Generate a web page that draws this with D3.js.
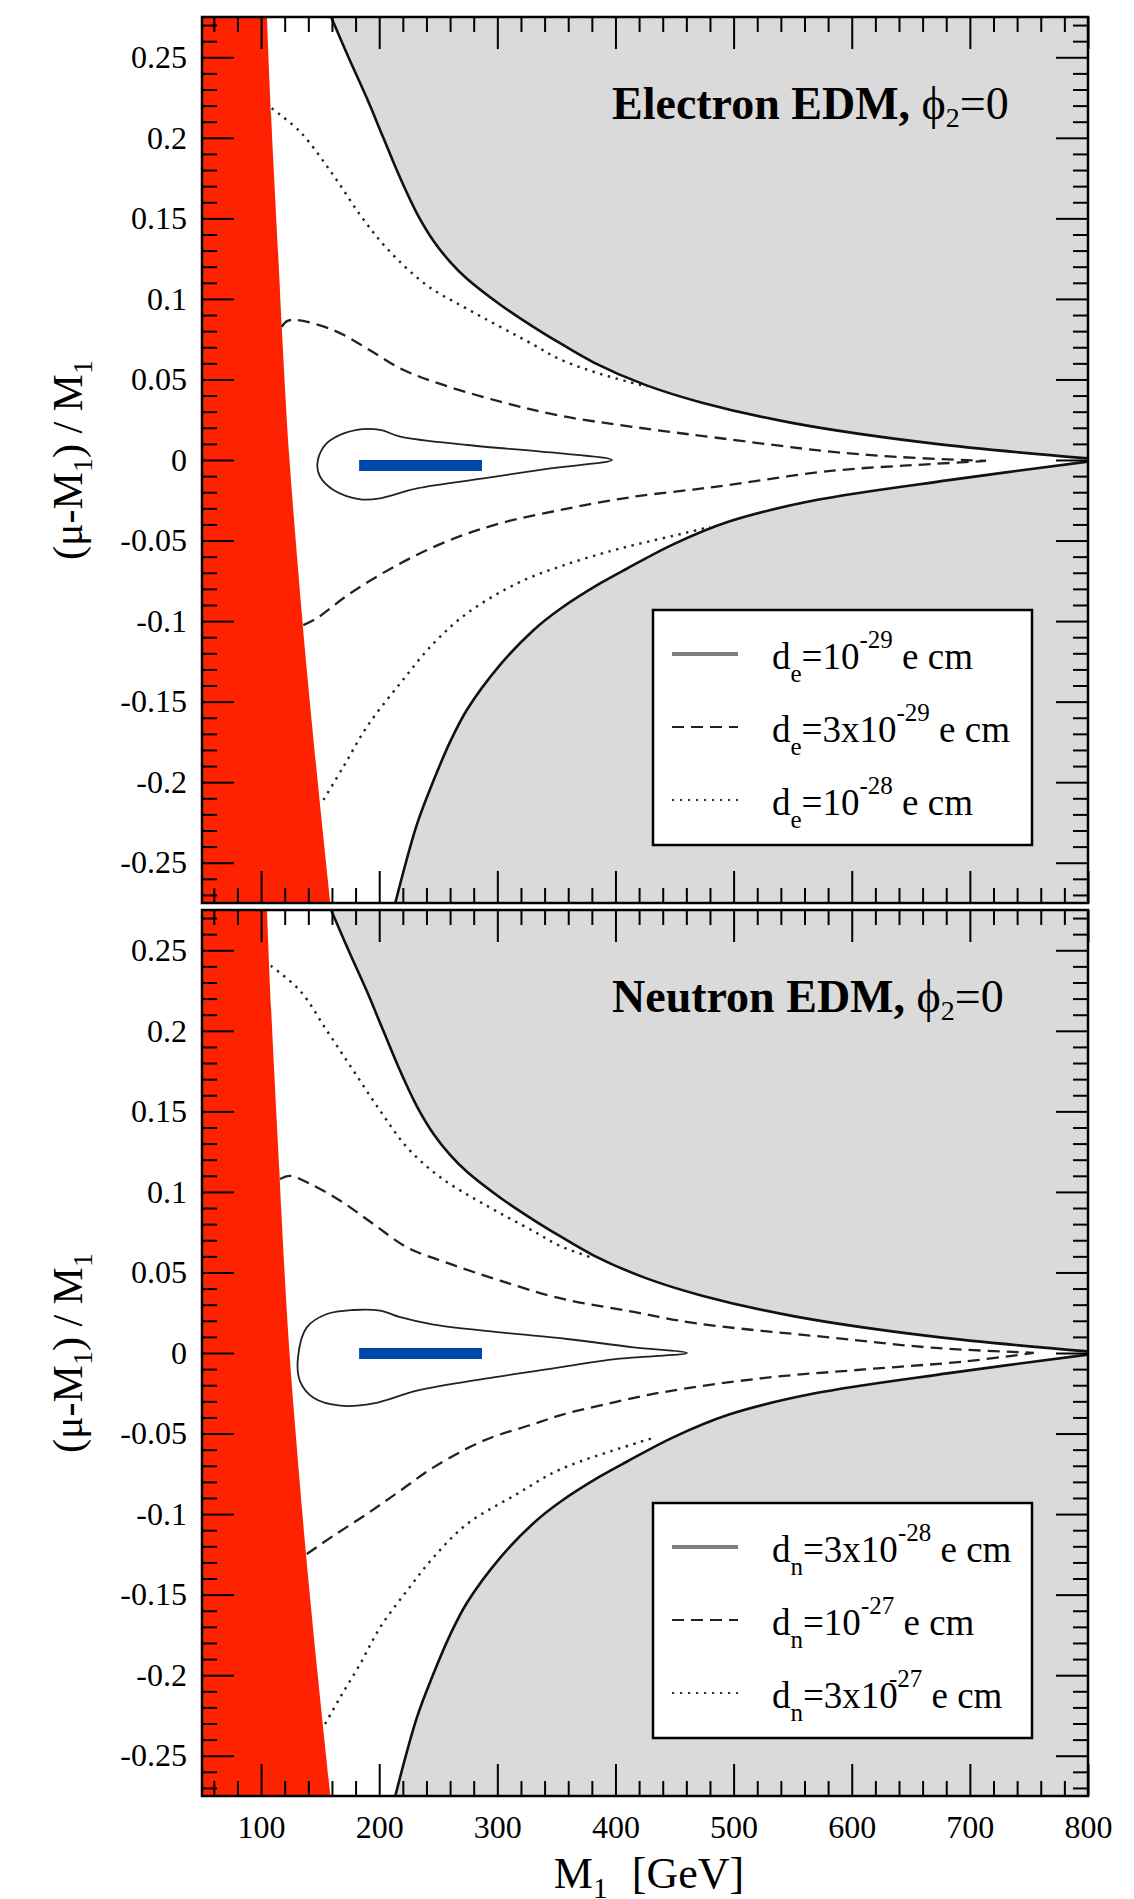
<!DOCTYPE html>
<html>
<head>
<meta charset="utf-8">
<script src="https://cdn.jsdelivr.net/npm/d3@7"></script>
<style>
body { margin: 0; background: #fff; }
text { font-family: "Liberation Serif", "Times New Roman", Times, serif; fill: #000; white-space: pre; }
</style>
</head>
<body>
<div id="chart"></div>
<script>
var width = 1134;
var height = 1899;

// tick labels
var xMajor = [100, 200, 300, 400, 500, 600, 700, 800];
var yMajor = [-0.25, -0.2, -0.15, -0.1, -0.05, 0, 0.05, 0.1, 0.15, 0.2, 0.25];

// excluded region (red): right edge, [M1, (mu-M1)/M1]
var redEdge = [[105, 0.275], [108.5, 0.214], [115.5, 0.113], [117, 0.09], [123.8, 0.003],
               [134.7, -0.097], [137.3, -0.119], [148, -0.2], [158.7, -0.275]];

// grey regions, same in both panels
var upperEdge = [[159.3, 0.275], [174, 0.25], [189.6, 0.2245], [203.5, 0.2], [217.8, 0.175], [232, 0.153],
                 [246, 0.136], [260, 0.123], [274.3, 0.1125], [302.5, 0.0964], [330.8, 0.0825],
                 [353.1, 0.0725], [381.7, 0.0605], [424.6, 0.0468], [473.3, 0.0356], [550.5, 0.0229],
                 [667.9, 0.0103], [800, 0.001]];
var lowerEdge = [[213.6, -0.275], [232, -0.226], [246, -0.199], [260, -0.175], [274.3, -0.155],
                 [302.5, -0.127], [330.8, -0.1055], [353.1, -0.0925], [387.3, -0.0765], [410.3, -0.0672],
                 [447.5, -0.0528], [496.1, -0.0382], [567.7, -0.0252], [682.2, -0.0125], [800, -0.001]];

// electron EDM contours
var eDashUp = [[117.5, 0.0827], [122, 0.0862], [130, 0.0869], [161, 0.0807], [189.6, 0.0693], [217.8, 0.0569],
               [246, 0.0486], [302.5, 0.0362], [353, 0.0275], [415.5, 0.0205], [489, 0.0135], [582, 0.0052],
               [639, 0.0019], [713.7, -0.0006]];
var eDashLow = [[135.8, -0.1025], [147, -0.0983], [175.4, -0.0828], [217.8, -0.0642], [260, -0.0497],
                [302.5, -0.0393], [359, -0.0302], [415.5, -0.0228], [467.5, -0.0182], [489, -0.0162],
                [582, -0.0068], [668, -0.0025], [713.7, -0.0006]];
var eDotUp = [[109, 0.2183], [133, 0.2038], [161, 0.177], [184, 0.152], [206.5, 0.1314], [240, 0.1086],
              [274, 0.094], [330.8, 0.0715], [353, 0.0625], [387, 0.0535], [427, 0.0455]];
var eDotLow = [[152.8, -0.211], [169.7, -0.1904], [189.6, -0.1656], [217.8, -0.1386], [246, -0.1138],
               [274.3, -0.0952], [316.7, -0.0766], [356, -0.0654], [396, -0.0565], [415.5, -0.0528],
               [461.8, -0.0448], [480, -0.0415]];
var eLoop = [[397, 0], [345, 0.0047], [274.3, 0.0093], [217.8, 0.0145], [200.8, 0.0187], [181, 0.0187],
             [161.3, 0.0135], [152.7, 0.0079], [147.6, -0.003], [150, -0.0104], [161.3, -0.0186],
             [184, -0.0244], [200.8, -0.0238], [232, -0.0176], [288.4, -0.0114], [345, -0.0052]];

// neutron EDM contours
var nDashUp = [[116, 0.108], [124.6, 0.11], [141.5, 0.105], [167, 0.0945], [195.2, 0.08], [223.5, 0.0656],
               [260.2, 0.0553], [302.5, 0.0449], [353, 0.034], [415.5, 0.0255], [467.5, 0.0185],
               [582, 0.0096], [668, 0.0033], [754, 0.0001]];
var nDashLow = [[138.7, -0.1248], [161.3, -0.1134], [189.6, -0.0999], [217.8, -0.0855], [246, -0.071],
                [288.4, -0.0544], [330.8, -0.0441], [353, -0.0387], [387.3, -0.0325], [438.9, -0.0245],
                [524.7, -0.0156], [610.6, -0.0102], [696.4, -0.0052], [754, 0.0001]];
var nDotUp = [[108.2, 0.2404], [133, 0.2249], [155.7, 0.2001], [178.2, 0.1752], [200.8, 0.1504],
              [223.5, 0.1277], [251.7, 0.1091], [288.4, 0.0925], [330.8, 0.0755], [353, 0.0665], [380, 0.0592]];
var nDotLow = [[154.2, -0.2303], [167, -0.2137], [183.9, -0.193], [200.8, -0.1703], [223.5, -0.1476],
               [246, -0.1268], [274.3, -0.1062], [316.7, -0.0875], [353, -0.0723], [421, -0.0552], [430, -0.0532]];
var nLoop = [[460.5, 0], [415.5, 0.0035], [359, 0.0087], [302.5, 0.0128], [246, 0.0176], [217.8, 0.0222],
             [200.8, 0.0263], [178.2, 0.0267], [155.7, 0.0242], [138.7, 0.0159], [131.2, -0.003],
             [133, -0.0176], [144.4, -0.0278], [167, -0.0327], [195.2, -0.0313], [232, -0.0234],
             [288.4, -0.0161], [344.9, -0.0099], [401.4, -0.0037]];

// blue segment: [M1 start, M1 end], centre value per panel
var barRange = [183, 287];
var barCentre = [-0.0034, -0.0003];

var titles = ["Electron EDM,", "Neutron EDM,"];
var legendRows = [
  [["d", "e", "=10", "-29", " e cm"], ["d", "e", "=3x10", "-29", " e cm"], ["d", "e", "=10", "-28", " e cm"]],
  [["d", "n", "=3x10", "-28", " e cm"], ["d", "n", "=10", "-27", " e cm"], ["d", "n", "=3x10", "-27", " e cm"]]
];

var panels = [
  {top: 17, dashUp: eDashUp, dashLow: eDashLow, dotUp: eDotUp, dotLow: eDotLow, loop: eLoop},
  {top: 910, dashUp: nDashUp, dashLow: nDashLow, dotUp: nDotUp, dotLow: nDotLow, loop: nLoop}
];
var panelH = 886;
var left = 202, right = 1088;

var x = d3.scaleLinear().domain([50, 800]).range([left, right]);

var svg = d3.select("#chart").append("svg")
    .attr("width", width)
    .attr("height", height);
svg.append("rect").attr("width", width).attr("height", height).attr("fill", "#fff");

var xMinor = d3.range(60, 800, 20).filter(function(v) { return v % 100 !== 0; });
var yMinor = d3.range(-27, 28).filter(function(v) { return v % 5 !== 0; }).map(function(v) { return v / 100; });

panels.forEach(function(p, i) {
    var y = d3.scaleLinear().domain([-0.275, 0.275]).range([p.top + panelH, p.top]);
    var clipId = "clip" + i;
    svg.append("clipPath").attr("id", clipId)
        .append("rect").attr("x", left).attr("y", p.top).attr("width", right - left).attr("height", panelH);

    var plot = svg.append("g").attr("clip-path", "url(#" + clipId + ")");
    var smooth = d3.curveCatmullRom.alpha(0.5);

    // grey regions
    plot.append("path").datum(upperEdge)
        .attr("d", d3.area().x(function(d) { return x(d[0]); }).y0(y(0.275)).y1(function(d) { return y(d[1]); })
            .curve(smooth))
        .attr("fill", "#dadada");
    plot.append("path").datum(lowerEdge)
        .attr("d", d3.area().x(function(d) { return x(d[0]); }).y0(y(-0.275)).y1(function(d) { return y(d[1]); })
            .curve(smooth))
        .attr("fill", "#dadada");

    // red excluded strip
    plot.append("path").datum(redEdge)
        .attr("d", d3.area().y(function(d) { return y(d[1]); }).x0(x(50)).x1(function(d) { return x(d[0]); })
            .curve(smooth))
        .attr("fill", "#ff2200");

    var line = d3.line().x(function(d) { return x(d[0]); }).y(function(d) { return y(d[1]); })
        .curve(smooth);

    [upperEdge, lowerEdge].forEach(function(c) {
        plot.append("path").datum(c).attr("d", line)
            .attr("fill", "none").attr("stroke", "#111").attr("stroke-width", 2.6);
    });
    [p.dashUp, p.dashLow].forEach(function(c) {
        plot.append("path").datum(c).attr("d", line)
            .attr("fill", "none").attr("stroke", "#222").attr("stroke-width", 2.3)
            .attr("stroke-dasharray", "12,7");
    });
    [p.dotUp, p.dotLow].forEach(function(c) {
        plot.append("path").datum(c).attr("d", line)
            .attr("fill", "none").attr("stroke", "#222").attr("stroke-width", 2.4)
            .attr("stroke-dasharray", "2.4,5.6");
    });
    plot.append("path").datum(p.loop)
        .attr("d", d3.line().x(function(d) { return x(d[0]); }).y(function(d) { return y(d[1]); })
            .curve(d3.curveCatmullRomClosed.alpha(0.5)))
        .attr("fill", "none").attr("stroke", "#222").attr("stroke-width", 1.8);

    // blue segment
    plot.append("line")
        .attr("x1", x(barRange[0])).attr("x2", x(barRange[1]))
        .attr("y1", y(barCentre[i])).attr("y2", y(barCentre[i]))
        .attr("stroke", "#0047ab").attr("stroke-width", 11);

    // ticks on all four sides, pointing inward
    function tickAxis(axis, tr, values, size, labels) {
        var g = svg.append("g").attr("transform", tr)
            .call(axis.tickValues(values).tickSize(-size).tickPadding(15)
                .tickFormat(function(v) { return String(v); }));
        g.select(".domain").remove();
        g.selectAll(".tick line").attr("stroke", "#000").attr("stroke-width", 2);
        if (labels) {
            g.selectAll("text").attr("font-size", 32).attr("font-family", null);
        } else {
            g.selectAll("text").remove();
        }
        return g;
    }
    tickAxis(d3.axisBottom(x), "translate(0," + (p.top + panelH) + ")", xMajor, 32, false);
    tickAxis(d3.axisBottom(x), "translate(0," + (p.top + panelH) + ")", xMinor, 15, false);
    tickAxis(d3.axisTop(x), "translate(0," + p.top + ")", xMajor, 32, false);
    tickAxis(d3.axisTop(x), "translate(0," + p.top + ")", xMinor, 15, false);
    tickAxis(d3.axisLeft(y), "translate(" + left + ",0)", yMajor, 32, true);
    tickAxis(d3.axisLeft(y), "translate(" + left + ",0)", yMinor, 15, false);
    tickAxis(d3.axisRight(y), "translate(" + right + ",0)", yMajor, 32, false);
    tickAxis(d3.axisRight(y), "translate(" + right + ",0)", yMinor, 15, false);

    if (i === 1) {
        var xl = tickAxis(d3.axisBottom(x), "translate(0," + (p.top + panelH) + ")", xMajor, 0, true);
        xl.selectAll(".tick line").remove();
        xl.selectAll("text").attr("y", 19);
    }

    // frame
    svg.append("rect")
        .attr("x", left).attr("y", p.top).attr("width", right - left).attr("height", panelH)
        .attr("fill", "none").attr("stroke", "#000").attr("stroke-width", 2.5);

    // title
    var t = svg.append("text").attr("x", 612).attr("y", p.top + 102).attr("font-size", 46);
    t.append("tspan").attr("font-weight", "bold").text(titles[i]);
    t.append("tspan").text(" \u03d5");
    t.append("tspan").attr("font-size", 28).attr("dy", 8).text("2");
    t.append("tspan").attr("dy", -8).text("=0");

    // legend
    var lg = svg.append("g").attr("transform", "translate(653," + (p.top + 593) + ")");
    lg.append("rect").attr("width", 379).attr("height", 235)
        .attr("fill", "#fff").attr("stroke", "#000").attr("stroke-width", 2.5);
    var rowY = [44, 117, 190];
    var styles = [
        {stroke: "#808080", w: 4, dash: null},
        {stroke: "#222", w: 2.2, dash: "12,7"},
        {stroke: "#333", w: 2.2, dash: "2.2,5.8"}
    ];
    legendRows[i].forEach(function(r, k) {
        lg.append("line").attr("x1", 19).attr("x2", 85).attr("y1", rowY[k]).attr("y2", rowY[k])
            .attr("stroke", styles[k].stroke).attr("stroke-width", styles[k].w)
            .attr("stroke-dasharray", styles[k].dash);
        var tx = lg.append("text").attr("x", 119).attr("y", rowY[k] + 15).attr("font-size", 37);
        tx.append("tspan").text(r[0]);
        tx.append("tspan").attr("font-size", 25).attr("dy", 13).text(r[1]);
        tx.append("tspan").attr("dy", -13).text(r[2]);
        tx.append("tspan").attr("font-size", 25).attr("dy", -21)
            .attr("dx", (i === 1 && k === 2) ? -9 : 0).text(r[3]);
        tx.append("tspan").attr("dy", 21).text(r[4]);
    });

    // y axis title
    var yl = svg.append("text")
        .attr("transform", "translate(82," + (p.top + panelH / 2) + ") rotate(-90)")
        .attr("text-anchor", "middle").attr("font-size", 42);
    yl.append("tspan").text("(\u03bc-M");
    yl.append("tspan").attr("font-size", 28).attr("dy", 10).text("1");
    yl.append("tspan").attr("dy", -10).text(") / M");
    yl.append("tspan").attr("font-size", 28).attr("dy", 10).text("1");
});

// x axis title
var xt = svg.append("text").attr("x", (left + right) / 2 + 4).attr("y", 1888)
    .attr("text-anchor", "middle").attr("font-size", 44);
xt.append("tspan").text("M");
xt.append("tspan").attr("font-size", 30).attr("dy", 10).text("1");
xt.append("tspan").attr("dy", -10).attr("dx", 24).text("[GeV]");
</script>
</body>
</html>
